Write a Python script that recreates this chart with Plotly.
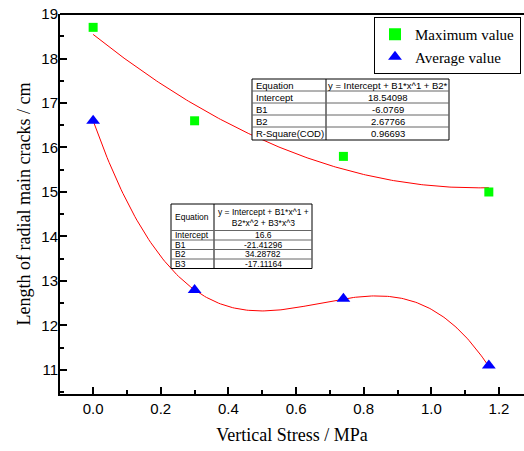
import numpy as np
import plotly.graph_objects as go

# ---- data ----
stress = [0.0, 0.30, 0.74, 1.17]
max_value = [18.7, 16.6, 15.8, 15.0]
avg_value = [16.6, 12.8, 12.6, 11.1]

# fit coefficients shown in the chart tables (Intercept, B1, B2, B3)
max_fit_coef = [18.54098, -6.0769, 2.67766]
avg_fit_coef = [16.6, -21.41296, 34.28782, -17.11164]
max_fit_r2 = 0.96693

x_ticks = [0.0, 0.2, 0.4, 0.6, 0.8, 1.0, 1.2]
y_ticks = [11, 12, 13, 14, 15, 16, 17, 18, 19]

W, H = 524, 451
ML, MR, MT, MB = 60, 0, 14, 57
PW, PH = W - ML - MR, H - MT - MB


def px(x):
    return (x - ML) / PW


def py(y):
    return (H - MB - y) / PH


xs = np.linspace(min(stress), max(stress), 200)
fit_max = np.polyval(max_fit_coef[::-1], xs)
fit_avg = np.polyval(avg_fit_coef[::-1], xs)

fig = go.Figure()
fig.add_trace(go.Scatter(x=xs, y=fit_max, mode="lines", line=dict(color="#FF0000", width=1),
                         showlegend=False, hoverinfo="skip"))
fig.add_trace(go.Scatter(x=xs, y=fit_avg, mode="lines", line=dict(color="#FF0000", width=1),
                         showlegend=False, hoverinfo="skip"))
fig.add_trace(go.Scatter(x=stress, y=max_value, mode="markers", name="Maximum value",
                         marker=dict(symbol="square", size=9, color="#00FF00")))
fig.add_trace(go.Scatter(x=stress, y=avg_value, mode="markers", name="Average value",
                         marker=dict(symbol="triangle-up", size=12, color="#0000FF")))

shapes = []
annotations = []


def table(left, mid, right, row_lines, cells, fsize):
    shapes.append(dict(type="rect", xref="paper", yref="paper", x0=px(left), x1=px(right),
                       y0=py(row_lines[-1]), y1=py(row_lines[0]), fillcolor="white",
                       line=dict(color="black", width=1), layer="above"))
    shapes.append(dict(type="line", xref="paper", yref="paper", x0=px(mid), x1=px(mid),
                       y0=py(row_lines[-1]), y1=py(row_lines[0]),
                       line=dict(color="black", width=1), layer="above"))
    for r in row_lines[1:-1]:
        shapes.append(dict(type="line", xref="paper", yref="paper", x0=px(left), x1=px(right),
                           y0=py(r), y1=py(r), line=dict(color="#666666", width=1), layer="above"))
    for i, (a, b) in enumerate(cells):
        yc = (row_lines[i] + row_lines[i + 1]) / 2
        annotations.append(dict(xref="paper", yref="paper", x=px(left + 2), y=py(yc),
                                xanchor="left", yanchor="middle", text=a, showarrow=False,
                                font=dict(family="Liberation Sans, Arial", size=fsize, color="black")))
        annotations.append(dict(xref="paper", yref="paper", x=px((mid + right) / 2), y=py(yc),
                                xanchor="center", yanchor="middle", text=b, showarrow=False,
                                font=dict(family="Liberation Sans, Arial", size=fsize, color="black")))


table(252, 326, 449, [79, 91, 103, 115, 127, 140],
      [("Equation", "y = Intercept + B1*x^1 + B2*"),
       ("Intercept", f"{max_fit_coef[0]}"),
       ("B1", f"{max_fit_coef[1]}"),
       ("B2", f"{max_fit_coef[2]}"),
       ("R-Square(COD)", f"{max_fit_r2}")], 9.5)

table(171, 214, 312, [204, 230.5, 240, 249.5, 259, 268.5],
      [("Equation", "y = Intercept + B1*x^1 +<br>B2*x^2 + B3*x^3"),
       ("Intercept", f"{avg_fit_coef[0]}"),
       ("B1", f"{avg_fit_coef[1]}"),
       ("B2", f"{avg_fit_coef[2]}"),
       ("B3", f"{avg_fit_coef[3]}")], 8.5)

# top frame line
shapes.append(dict(type="line", xref="paper", yref="paper", x0=0, x1=1, y0=1, y1=1,
                   line=dict(color="black", width=2), layer="above"))

axis_common = dict(showline=True, linecolor="black", linewidth=2, ticks="inside", ticklen=7,
                   tickwidth=1.5, tickcolor="black", showgrid=False, zeroline=False,
                   automargin=False,
                   tickfont=dict(family="Liberation Sans, Arial", size=15, color="black"))

fig.update_layout(
    width=W, height=H,
    margin=dict(l=ML, r=MR, t=MT, b=MB, autoexpand=False),
    plot_bgcolor="white", paper_bgcolor="white",
    shapes=shapes, annotations=annotations,
    xaxis=dict(range=[-0.098, 1.274], tickvals=x_ticks, ticktext=[f"{v:.1f}" for v in x_ticks],
               minor=dict(dtick=0.1, ticks="inside", ticklen=4, tickcolor="black", tickwidth=1.5),
               title=dict(text="Vertical Stress / MPa", standoff=12,
                          font=dict(family="Liberation Serif, Times New Roman", size=18, color="black")),
               **axis_common),
    yaxis=dict(range=[10.46, 19.0], tickvals=y_ticks, ticklabelstandoff=-3,
               minor=dict(dtick=0.5, ticks="inside", ticklen=4, tickcolor="black", tickwidth=1.5),
               title=dict(text="Length of radial main cracks / cm", standoff=6,
                          font=dict(family="Liberation Serif, Times New Roman", size=18, color="black")),
               **axis_common),
    legend=dict(x=px(374), y=py(17), xanchor="left", yanchor="top", bgcolor="white",
                bordercolor="black", borderwidth=1, tracegroupgap=0, itemsizing="constant",
                font=dict(family="Liberation Serif, Times New Roman", size=15, color="black")),
)

fig.write_html("out.html", config={"displayModeBar": False},
               post_script="document.body.style.margin='0';")
